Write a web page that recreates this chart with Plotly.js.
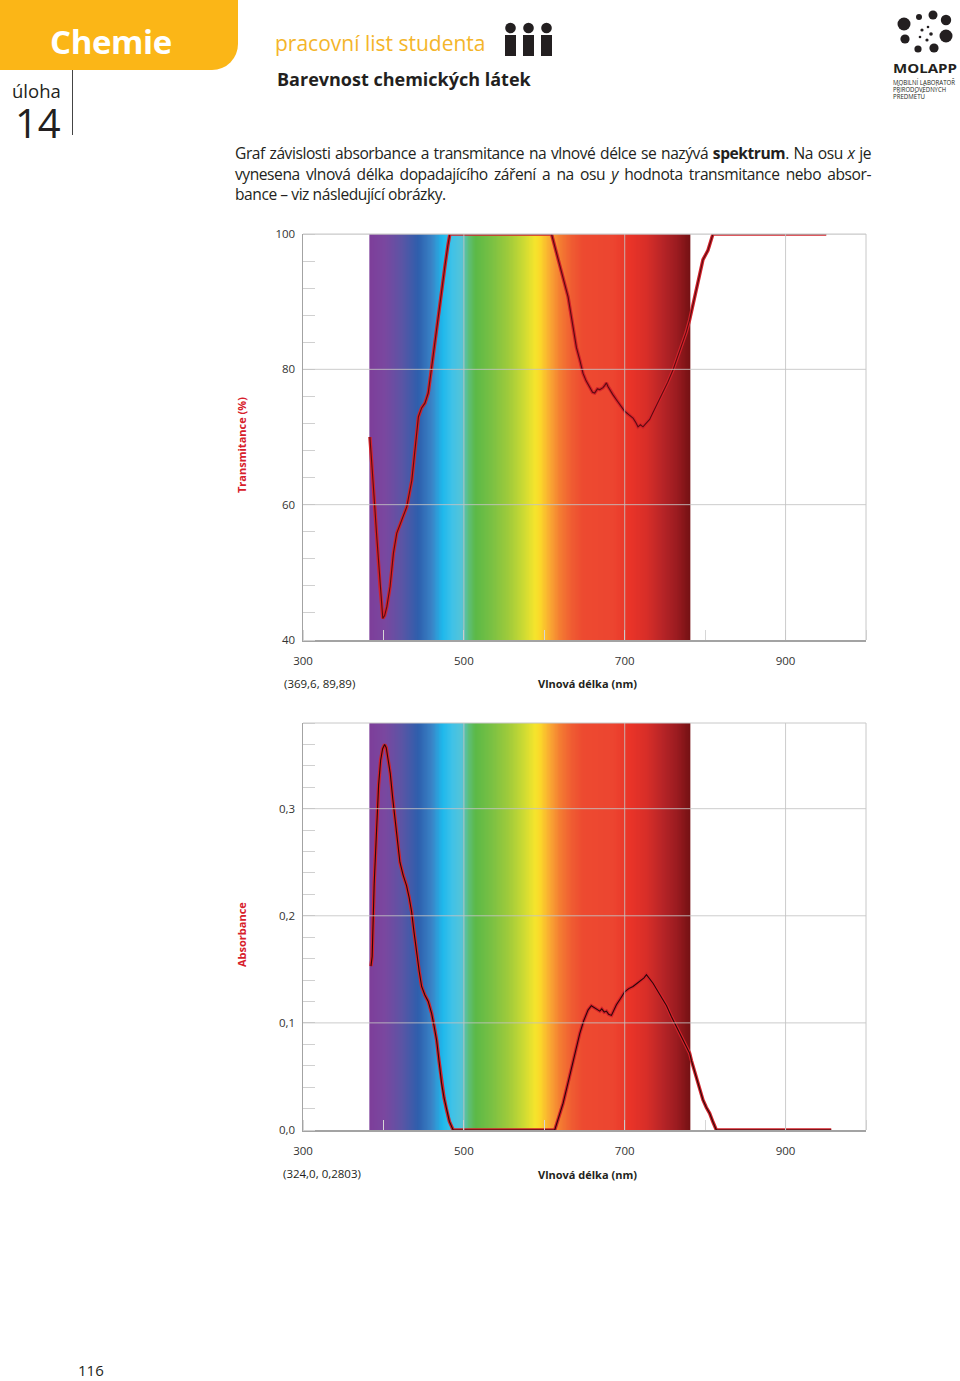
<!DOCTYPE html>
<html><head><meta charset="utf-8">
<script src="https://cdn.plot.ly/plotly-3.0.1.min.js"></script>
<style>
html,body{margin:0;padding:0;background:#fff;}
#page{position:relative;width:960px;height:1381px;overflow:hidden;font-family:"Open Sans",sans-serif;color:#231f20;}
#chart{position:absolute;left:0;top:0;width:960px;height:1381px;}
.abs{position:absolute;white-space:nowrap;}
.pl{position:absolute;left:235px;width:636px;height:20px;line-height:20px;font-family:"Open Sans",sans-serif;font-size:15.6px;white-space:nowrap;color:#231f20;}
</style></head>
<body><div id="page">
<div id="chart"></div>
<div class="abs" style="left:0;top:0;width:238px;height:70px;background:#fbb617;border-bottom-right-radius:26px;"></div>
<div class="abs" style="left:50px;top:20px;line-height:44px;font-size:33px;font-weight:700;color:#fff;letter-spacing:-0.4px;">Chemie</div>
<div class="abs" style="left:12px;top:82px;line-height:18px;font-size:18.5px;color:#231f20;">úloha</div>
<div class="abs" style="left:15px;top:108px;line-height:30px;font-size:40px;font-weight:500;color:#231f20;">14</div>
<div class="abs" style="left:72px;top:70px;width:1px;height:65px;background:#444;"></div>
<div class="abs" style="left:275px;top:29px;line-height:28px;font-size:21px;color:#f4b52a;">pracovní list studenta</div>
<svg class="abs" style="left:500px;top:18px;" width="60" height="42" viewBox="500 18 60 42">
  <circle cx="510.5" cy="28" r="5.3" fill="#231f20"/><rect x="505" y="35" width="11" height="21" fill="#231f20"/>
  <circle cx="528.5" cy="28" r="5.3" fill="#231f20"/><rect x="523" y="35" width="11" height="21" fill="#231f20"/>
  <circle cx="546.5" cy="28" r="5.3" fill="#231f20"/><rect x="541" y="35" width="11" height="21" fill="#231f20"/>
</svg>
<div class="abs" style="left:277px;top:67px;line-height:24px;font-size:18px;font-weight:700;color:#231f20;">Barevnost chemických látek</div>
<svg class="abs" style="left:880px;top:0px;" width="80" height="110" viewBox="880 0 80 110">
  <g fill="#231f20">
    <circle cx="904" cy="24" r="6.5"/><circle cx="919" cy="17" r="3"/><circle cx="933" cy="15" r="4.5"/><circle cx="946" cy="20" r="5.2"/>
    <circle cx="946" cy="36" r="6.5"/><circle cx="934" cy="48" r="4.6"/><circle cx="918" cy="49" r="3.6"/><circle cx="905" cy="39" r="4.6"/>
    <circle cx="922" cy="30" r="1.6"/><circle cx="928" cy="27" r="1.3"/><circle cx="931" cy="34" r="1.8"/><circle cx="927" cy="40" r="1.6"/><circle cx="920" cy="37" r="1.3"/>
  </g>
  <text x="893" y="73" font-family="Open Sans" font-weight="700" font-size="12" textLength="64" lengthAdjust="spacingAndGlyphs" fill="#231f20">MOLAPP</text>
  <text x="893" y="84.5" font-family="Open Sans" font-size="6.2" textLength="62" lengthAdjust="spacingAndGlyphs" fill="#231f20">MOBILNÍ LABORATOŘ</text>
  <text x="893" y="91.5" font-family="Open Sans" font-size="6.2" textLength="53" lengthAdjust="spacingAndGlyphs" fill="#231f20">PŘÍRODOVĚDNÝCH</text>
  <text x="893" y="98.5" font-family="Open Sans" font-size="6.2" textLength="32" lengthAdjust="spacingAndGlyphs" fill="#231f20">PŘEDMĚTŮ</text>
</svg>
<div class="pl j" style="top:143px;"><span>Graf závislosti absorbance a transmitance na vlnové délce se nazývá <b>spektrum</b>. Na osu <i>x</i> je</span></div>
<div class="pl j" style="top:163.5px;"><span>vynesena vlnová délka dopadajícího záření a na osu <i>y</i> hodnota transmitance nebo absor-</span></div>
<div class="pl k" style="top:184px;"><span>bance – viz následující obrázky.</span></div>
<div class="abs" style="left:78px;top:1364px;line-height:12px;font-size:15px;color:#231f20;">116</div>
</div>
<script>
// ---------------- data ----------------
const transNm = [383.2,385.0,387.5,391.7,395.8,399.2,401.5,404.2,408.3,412.4,416.6,422.8,429.1,435.3,439.4,443.5,447.5,451.6,455.7,459.9,464.0,468.1,472.3,476.4,480.0,482.6,609.0,614.0,619.3,624.5,629.6,635.8,640.0,644.1,648.2,652.0,656.5,660.0,662.7,666.0,669.0,673.0,675.0,677.3,679.0,681.4,685.0,689.7,695.0,700.0,705.0,710.3,713.5,716.5,719.5,722.7,726.5,731.0,735.0,739.4,743.5,747.6,753.5,760.0,766.0,772.4,776.5,780.7,785.0,789.0,793.2,797.3,803.5,806.5,809.7,950.6];
const transVal = [70.0,66.5,62.7,55.3,47.9,43.2,43.6,44.9,47.9,52.8,55.8,57.7,59.7,63.6,68.6,73.0,74.3,75.0,76.5,80.4,84.3,88.3,91.8,95.2,98.2,100.0,100.0,97.6,95.2,93.0,90.7,85.8,83.2,81.4,79.4,78.3,77.4,76.6,76.5,77.1,77.0,77.3,77.6,78.0,77.5,77.0,76.3,75.5,74.6,73.8,73.3,72.8,72.2,71.5,71.8,71.5,72.0,72.6,73.6,74.7,75.7,76.5,78.1,79.9,81.9,83.9,85.5,87.3,89.6,92.2,94.2,96.2,97.6,98.8,100.0,100.0];

const absNm = [384.5,386.0,388.5,391.5,394.0,396.5,399.0,401.5,403.5,406.0,408.5,411.5,414.5,417.5,420.5,424.5,428.8,432.0,435.0,438.0,441.3,444.5,447.5,451.5,455.7,459.9,463.0,466.1,469.2,472.3,475.4,478.5,482.0,486.7,613.0,618.0,623.4,629.5,635.8,640.0,644.1,649.0,654.4,658.5,662.7,666.0,669.0,671.5,674.5,677.3,680.0,683.5,686.5,689.7,695.0,700.0,705.0,710.3,715.5,720.7,724.0,727.0,731.0,735.2,740.0,745.6,752.0,758.0,764.0,770.4,776.5,780.7,782.9,786.0,789.0,793.0,797.3,801.5,805.6,810.0,813.9,956.8];
const absVal = [0.153,0.162,0.230,0.290,0.322,0.345,0.356,0.360,0.357,0.345,0.333,0.310,0.290,0.266,0.250,0.238,0.228,0.217,0.204,0.185,0.164,0.148,0.134,0.126,0.120,0.109,0.097,0.084,0.064,0.0436,0.030,0.0187,0.008,0.0,0.0,0.012,0.025,0.044,0.065,0.079,0.090,0.102,0.112,0.116,0.114,0.112,0.111,0.113,0.110,0.111,0.108,0.107,0.112,0.117,0.123,0.129,0.132,0.134,0.137,0.140,0.142,0.145,0.141,0.137,0.131,0.1246,0.116,0.106,0.097,0.087,0.077,0.0717,0.065,0.057,0.050,0.039,0.028,0.021,0.0156,0.007,0.0,0.0];

// visible spectrum background (wavelength stops -> colour)
const spectrumNm = [383,402,423,443,460,473,485,497,505,514,535,555,572,588,594,607,619,635,648,685,706,727,747,765,777,781];
const spectrumColors = ['#7d3f9a','#7a48a0','#5a55a5','#2e5fad','#3a85c8','#1fb8ec','#3fc2e8','#55c3d8','#5dbf7a','#5cb947','#7bc143','#a0cb3b','#c8d934','#f5e52c','#fbd92a','#f9a633','#f47d32','#ef5a32','#ed4a30','#ec4530','#ea3428','#d82e28','#b72427','#9a1b20','#7e1316','#731114'];

const xTickVals = [300,500,700,900];
const transTickVals = [40,60,80,100];
const absTickVals = [0,0.1,0.2,0.3];
const transGrid = [60,80,100];
const absGrid = [0.1,0.2,0.3];
const xGrid = [500,700,900];

const transTitle = 'Transmitance (%)';
const absTitle = 'Absorbance';
const xTitle = 'Vlnová délka (nm)';
const transReadout = '(369,6, 89,89)';
const absReadout = '(324,0, 0,2803)';

// ---------------- build ----------------
const FONT = '"Open Sans", sans-serif';
const H = 1381, W = 960;
const py = p => 1 - p / H;
const px = p => p / W;

const sMin = spectrumNm[0], sMax = spectrumNm[spectrumNm.length - 1];
const colorscale = spectrumNm.map((v, i) => [(v - sMin) / (sMax - sMin), spectrumColors[i]]);
const grid = [];
for (let v = sMin; v <= sMax; v += 1) grid.push(v);
const zRows = [grid, grid];

function heat(xa, ya, yr) {
  return {type: 'heatmap', x: grid, y: yr, z: zRows, xaxis: xa, yaxis: ya, colorscale: colorscale,
    zmin: sMin, zmax: sMax, zsmooth: 'best', showscale: false, hoverinfo: 'skip'};
}
function line(x, y, xa, ya, color, width) {
  return {type: 'scatter', mode: 'lines', x: x, y: y, xaxis: xa, yaxis: ya,
    line: {color: color, width: width, shape: 'linear'}, hoverinfo: 'skip'};
}

const data = [
  heat('x', 'y', [40, 100]),
  heat('x2', 'y2', [0, 0.38]),
  line(transNm, transVal, 'x', 'y', '#d3222b', 3.4),
  line(transNm, transVal, 'x', 'y', '#5a0c10', 1.1),
  line(absNm, absVal, 'x2', 'y2', '#d3222b', 3.4),
  line(absNm, absVal, 'x2', 'y2', '#2a0808', 1.1)
];

const tickfont = {family: FONT, size: 11.5, color: '#333'};
function xAxis(anchor) {
  return {domain: [px(303), px(866)], anchor: anchor, range: [300, 1000], tickmode: 'array', tickvals: xTickVals,
    showgrid: false, zeroline: false, showline: true, linecolor: '#a3a3a3', linewidth: 1.5, ticks: '',
    minor: {tickmode: 'linear', tick0: 300, dtick: 100, ticks: 'inside', ticklen: 10, tickcolor: '#d6d6d6', tickwidth: 1, showgrid: false},
    tickfont: tickfont, ticklabelstandoff: 10, fixedrange: true};
}
function yAxis(anchor, dom, range, vals, dtickMinor, fmt) {
  return {domain: dom, anchor: anchor, range: range, tickmode: 'array', tickvals: vals, tickformat: fmt,
    showgrid: false, zeroline: false, showline: true, linecolor: '#a3a3a3', linewidth: 1.5, ticks: '',
    minor: {tickmode: 'linear', tick0: range[0], dtick: dtickMinor, ticks: 'inside', ticklen: 12, tickcolor: '#d0d0d0', tickwidth: 1, showgrid: false},
    tickfont: tickfont, ticklabelstandoff: 4, fixedrange: true};
}

const shapes = [];
const gridLine = {color: 'rgba(195,195,195,0.85)', width: 1};
[['x', 'y', transGrid], ['x2', 'y2', absGrid]].forEach(([xa, ya, g]) => {
  g.forEach(v => shapes.push({type: 'line', layer: 'above', xref: xa + ' domain', x0: 0, x1: 1, yref: ya, y0: v, y1: v, line: gridLine}));
  xGrid.forEach(v => shapes.push({type: 'line', layer: 'above', xref: xa, x0: v, x1: v, yref: ya + ' domain', y0: 0, y1: 1, line: gridLine}));
  shapes.push({type: 'line', layer: 'above', xref: xa + ' domain', x0: 0, x1: 1, yref: ya + ' domain', y0: 1, y1: 1, line: {color: '#c8c8c8', width: 1}});
  shapes.push({type: 'line', layer: 'above', xref: xa + ' domain', x0: 1, x1: 1, yref: ya + ' domain', y0: 0, y1: 1, line: {color: '#c8c8c8', width: 1}});
});

const ann = (text, x, y, opts) => Object.assign({text: text, xref: 'paper', yref: 'paper', x: px(x), y: py(y),
  xanchor: 'center', yanchor: 'middle', showarrow: false, font: {family: FONT, size: 11.5, color: '#231f20'}}, opts || {});
const titleFont = {family: FONT, size: 11, color: '#d7202b', weight: 700};
const xTitleFont = {family: FONT, size: 11, color: '#231f20', weight: 700};

const layout = {
  width: W, height: H, margin: {l: 0, r: 0, t: 0, b: 0},
  paper_bgcolor: 'rgba(0,0,0,0)', plot_bgcolor: '#ffffff', showlegend: false, separators: ', ',
  xaxis: xAxis('y'),
  yaxis: yAxis('x', [py(640), py(234)], [40, 100], transTickVals, 4, 'd'),
  xaxis2: xAxis('y2'),
  yaxis2: yAxis('x2', [py(1130), py(723)], [0, 0.38], absTickVals, 0.02, '.1f'),
  shapes: shapes,
  annotations: [
    ann(transTitle, 241, 445, {textangle: -90, font: titleFont}),
    ann(absTitle, 241, 935, {textangle: -90, font: titleFont}),
    ann(xTitle, 587, 684, {font: xTitleFont}),
    ann(xTitle, 587, 1174, {font: xTitleFont}),
    ann(transReadout, 319, 683),
    ann(absReadout, 322, 1173)
  ]
};

Plotly.newPlot('chart', data, layout, {staticPlot: true, displayModeBar: false}).then(() => {});

// justify paragraph lines exactly to the column width (tighten letters if needed)
const LS = -0.45;
document.querySelectorAll('.pl').forEach(d => { d.querySelector('span').style.letterSpacing = LS + 'px'; });
document.querySelectorAll('.pl.j').forEach(d => {
  const s = d.querySelector('span');
  const w = s.getBoundingClientRect().width;
  const n = (s.textContent.match(/ /g) || []).length;
  s.style.wordSpacing = ((636 - w) / n) + 'px';
});
</script>
</body></html>
